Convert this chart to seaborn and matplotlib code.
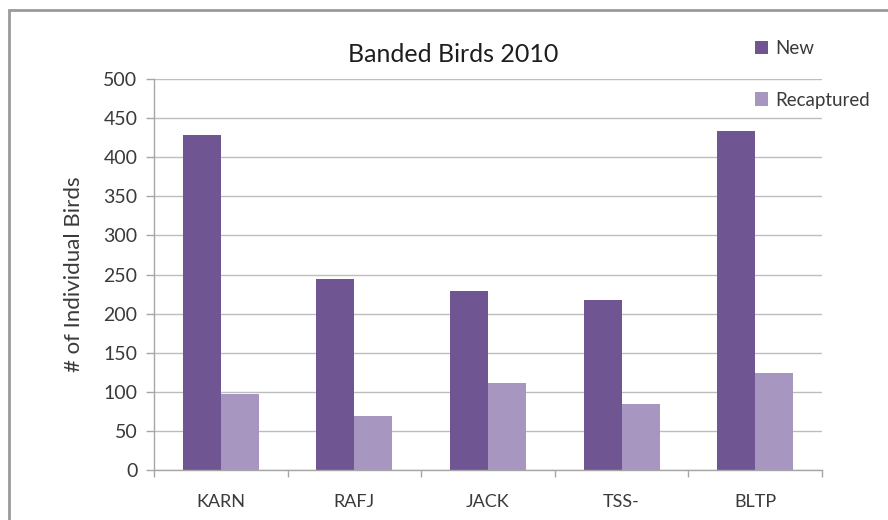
import matplotlib
matplotlib.use("Agg")
import matplotlib.pyplot as plt
import seaborn as sns
import pandas as pd
from matplotlib.patches import Rectangle

sites = ["KARN", "RAFJ", "JACK", "TSS-", "BLTP"]
new_birds = [428, 244, 229, 217, 433]
recaptured = [97, 69, 111, 85, 124]
series_names = ["New", "Recaptured"]
y_ticks = [0, 50, 100, 150, 200, 250, 300, 350, 400, 450, 500]

df = pd.DataFrame({
    "Site": sites * 2,
    "Count": new_birds + recaptured,
    "Type": [series_names[0]] * len(sites) + [series_names[1]] * len(sites),
})

sns.set_theme(style="white")
plt.rcParams["font.family"] = ["Lato", "DejaVu Sans"]

fig = plt.figure(figsize=(8.88, 5.2), dpi=100)
ax = fig.add_axes([154 / 888, 1 - 470 / 520, (822 - 154) / 888, (470 - 79) / 520])

palette = {"New": "#6F5592", "Recaptured": "#A797C0"}
sns.barplot(data=df, x="Site", y="Count", hue="Type", palette=palette,
            width=0.57, gap=0, saturation=1, ax=ax, legend=True,
            linewidth=0, edgecolor="none")

ax.set_ylim(0, 500)
ax.set_xlim(-0.5, len(sites) - 0.5)
ax.set_yticks(y_ticks)
ax.yaxis.grid(True, color="#BDBDBD", linewidth=1.0)
ax.set_axisbelow(True)
for s in ["top", "right"]:
    ax.spines[s].set_visible(False)
for s in ["left", "bottom"]:
    ax.spines[s].set_color("#A6A6A6")
    ax.spines[s].set_linewidth(1.0)

ax.tick_params(axis="y", which="major", length=6, width=1, color="#A6A6A6",
               direction="out", labelsize=14, labelcolor="#3A3A3A", pad=6, left=True)
ax.set_xticks([i - 0.5 for i in range(len(sites) + 1)], minor=True)
ax.tick_params(axis="x", which="minor", length=5, width=1, color="#A6A6A6",
               direction="out", bottom=True)
ax.tick_params(axis="x", which="major", length=0, labelsize=13, labelcolor="#3A3A3A", pad=17)

ax.set_xlabel("")
ax.set_ylabel("# of Individual Birds", fontsize=16, color="#3A3A3A", labelpad=14)

fig.text(453 / 888, 1 - 55 / 520, "Banded Birds 2010", ha="center", va="center",
         fontsize=18, color="#1E1E1E")

leg = ax.legend(loc="upper left", bbox_to_anchor=(738 / 888, 1 - 23 / 520),
                bbox_transform=fig.transFigure, frameon=False, fontsize=13.5,
                labelspacing=1.85, handlelength=0.7, handleheight=0.7,
                handletextpad=0.4, labelcolor="#3A3A3A")

fig.patches.append(Rectangle((9 / 888, -0.1), 1.2, 1 - 10 / 520 + 0.1,
                             transform=fig.transFigure, fill=False,
                             edgecolor="#9A9A9A", linewidth=2))

fig.savefig("out.png", dpi=100)
